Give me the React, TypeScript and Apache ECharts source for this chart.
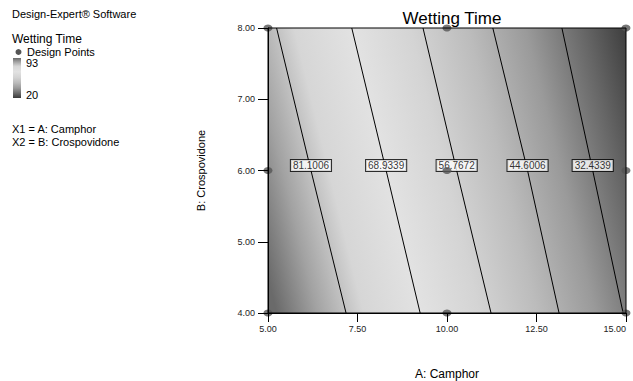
import React, { useEffect, useRef } from "react";
import * as echarts from "echarts";

// ---- data ----
const xTicks = [5, 7.5, 10, 12.5, 15];
const yTicks = [4, 5, 6, 7, 8];
const contourLevels = [81.1006, 68.9339, 56.7672, 44.6006, 32.4339];
const contourAatB8 = [5.24, 7.34, 9.33, 11.28, 13.21];
const contourAatB6 = [6.2, 8.3, 10.27, 12.25, 14.07];
const contourAatB4 = [7.18, 9.25, 11.23, 13.13, 14.92];
const designA = [5, 10, 15, 5, 10, 15, 5, 10, 15];
const designB = [8, 8, 8, 6, 6, 6, 4, 4, 4];
const responseMax = 93;
const responseMin = 20;

// grey shading (value -> colour), style only
const shadeValues = [93, 86, 78, 68, 58, 48, 38, 28, 20];
const shadeColors = ["#6a6a6a", "#a2a2a2", "#d6d6d6", "#e2e2e2", "#d4d4d4", "#bcbcbc", "#9a9a9a", "#666666", "#3a3a3a"];

const FONT = "Liberation Sans, Arial, sans-serif";

export default function App() {
  const ref = useRef<HTMLDivElement>(null);

  useEffect(() => {
    if (!ref.current) return;
    const chart = echarts.init(ref.current, undefined, { renderer: "svg" });

    const stops = shadeValues.map((v, i) => ({
      offset: (responseMax - v) / (responseMax - responseMin),
      color: shadeColors[i],
    }));

    const contourSeries = contourLevels.map((lvl, i) => ({
      type: "line",
      name: "c" + lvl,
      data: [
        [contourAatB8[i], 8],
        [contourAatB6[i], 6],
        [contourAatB4[i], 4],
      ],
      symbol: "none",
      smooth: false,
      lineStyle: { color: "#000", width: 1 },
      z: 3,
      silent: true,
    }));

    const option: any = {
      animation: false,
      backgroundColor: "#fff",
      textStyle: { fontFamily: FONT },
      title: {
        text: "Wetting Time",
        left: 447,
        textAlign: "center",
        top: 5,
        textStyle: { fontFamily: FONT, fontSize: 17, fontWeight: "normal", color: "#000" },
      },
      grid: {
        left: 268,
        top: 28,
        width: 358,
        height: 285,
        show: true,
        borderColor: "#000",
        borderWidth: 1,
        backgroundColor: "transparent",
        containLabel: false,
        outerBoundsMode: "none",
        z: 10,
      },
      xAxis: {
        type: "value",
        min: xTicks[0],
        max: xTicks[xTicks.length - 1],
        interval: 2.5,
        name: "A: Camphor",
        nameLocation: "middle",
        nameGap: 55,
        nameTextStyle: { fontFamily: FONT, fontSize: 12, color: "#000" },
        axisLine: { lineStyle: { color: "#000", width: 1 } },
        axisTick: { show: true, length: 9, lineStyle: { color: "#000" } },
        axisLabel: {
          fontFamily: FONT,
          fontSize: 9,
          color: "#222",
          margin: 11,
          alignMaxLabel: "right",
          formatter: (v: number) => v.toFixed(2),
        },
        splitLine: { show: false },
        z: 10,
      },
      yAxis: {
        type: "value",
        min: yTicks[0],
        max: yTicks[yTicks.length - 1],
        interval: 1,
        name: "B: Crospovidone",
        nameLocation: "middle",
        nameGap: 62,
        nameRotate: 90,
        nameTextStyle: { fontFamily: FONT, fontSize: 11, color: "#000" },
        axisLine: { lineStyle: { color: "#000", width: 1 } },
        axisTick: { show: true, length: 10, lineStyle: { color: "#000" } },
        axisLabel: { fontFamily: FONT, fontSize: 9, color: "#222", margin: 13, formatter: (v: number) => v.toFixed(2) },
        splitLine: { show: false },
        z: 10,
      },
      graphic: [
        { type: "text", left: 12, top: 8, style: { text: "Design-Expert® Software", font: `11px ${FONT}`, fill: "#000" } },
        { type: "text", left: 12, top: 33, style: { text: "Wetting Time", font: `12px ${FONT}`, fill: "#000" } },
        { type: "circle", shape: { cx: 18.5, cy: 52, r: 3 }, style: { fill: "#555" } },
        { type: "text", left: 27, top: 46, style: { text: "Design Points", font: `11px ${FONT}`, fill: "#000" } },
        {
          type: "rect",
          shape: { x: 13, y: 58, width: 8, height: 40 },
          style: {
            fill: new echarts.graphic.LinearGradient(0, 0, 0, 1, stops),
          },
        },
        { type: "text", left: 26, top: 57, style: { text: "93", font: `11px ${FONT}`, fill: "#000" } },
        { type: "text", left: 26, top: 89, style: { text: "20", font: `11px ${FONT}`, fill: "#000" } },
        { type: "text", left: 12, top: 123, style: { text: "X1 = A: Camphor", font: `11px ${FONT}`, fill: "#000" } },
        { type: "text", left: 12, top: 136, style: { text: "X2 = B: Crospovidone", font: `11px ${FONT}`, fill: "#000" } },
      ],
      series: [
        {
          type: "custom",
          name: "shade",
          silent: true,
          z: 1,
          data: [[xTicks[0], yTicks[0], xTicks[xTicks.length - 1], yTicks[yTicks.length - 1]]],
          renderItem: (params: any, api: any) => {
            const p0 = api.coord([api.value(0), api.value(3)]);
            const p1 = api.coord([api.value(2), api.value(1)]);
            const t = api.coord([contourAatB8[0], 8]);
            const b = api.coord([contourAatB4[0], 4]);
            let ux = b[0] - t[0];
            let uy = b[1] - t[1];
            const ul = Math.hypot(ux, uy);
            ux /= ul;
            uy /= ul;
            const nX = uy; // normal (uy, -ux) points right/up
            const nY = -ux;
            const last = contourLevels.length - 1;
            const m1 = api.coord([contourAatB6[0], 6]);
            const m5 = api.coord([contourAatB6[last], 6]);
            const D = (m5[0] - m1[0]) * nX + (m5[1] - m1[1]) * nY;
            const rate = (contourLevels[0] - contourLevels[last]) / D;
            const d0 = (responseMax - contourLevels[0]) / rate;
            const d1 = (contourLevels[0] - responseMin) / rate;
            const sx = m1[0] - nX * d0;
            const sy = m1[1] - nY * d0;
            const ex = m1[0] + nX * d1;
            const ey = m1[1] + nY * d1;
            return {
              type: "rect",
              shape: { x: p0[0], y: p0[1], width: p1[0] - p0[0], height: p1[1] - p0[1] },
              style: {
                fill: new echarts.graphic.LinearGradient(sx, sy, ex, ey, stops, true),
              },
            };
          },
        },
        ...contourSeries,
        {
          type: "scatter",
          name: "labels",
          silent: true,
          z: 4,
          symbolSize: 0,
          data: contourLevels.map((lvl, i) => ({ value: [contourAatB6[i], 6], name: String(lvl) })),
          label: {
            show: true,
            position: "inside",
            offset: [0, -5],
            formatter: (p: any) => p.name,
            fontFamily: FONT,
            fontSize: 10,
            color: "#000",
            backgroundColor: "#fff",
            borderColor: "#000",
            borderWidth: 1,
            padding: [1, 2, 0, 2],
          },
        },
        {
          type: "scatter",
          name: "Design Points",
          z: 5,
          clip: false,
          symbol: "circle",
          symbolSize: [9, 7],
          itemStyle: { color: "#555" },
          data: designA.map((a, i) => [a, designB[i]]),
        },
      ],
    };

    chart.setOption(option);
    return () => chart.dispose();
  }, []);

  return (
    <div
      ref={ref}
      style={{ position: "fixed", left: 0, top: 0, width: 633, height: 381, background: "#fff" }}
    />
  );
}
